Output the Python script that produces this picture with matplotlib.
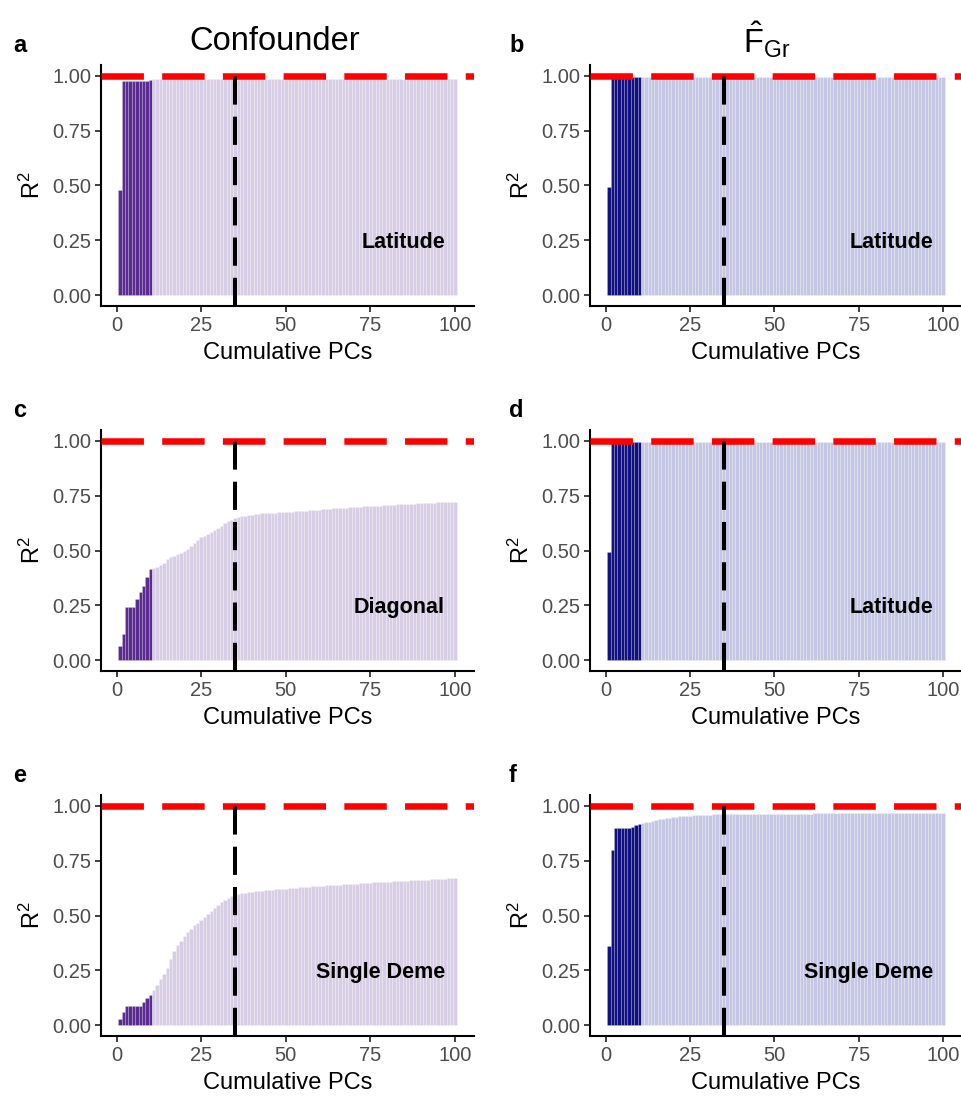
import matplotlib
matplotlib.use("Agg")
import matplotlib.pyplot as plt
import numpy as np

plt.rcParams['font.family'] = ['Liberation Sans', 'DejaVu Sans']
plt.rcParams['mathtext.fontset'] = 'custom'
plt.rcParams['mathtext.rm'] = 'Liberation Sans'
plt.rcParams['mathtext.it'] = 'Liberation Sans:italic'

# cumulative R^2 of the confounder / F_Gr on the first k PCs, k = 1..100
pcs = np.arange(1, 101)

conf_latitude = [
    0.480, 0.977, 0.977, 0.977, 0.977, 0.977, 0.977, 0.977, 0.979, 0.983,
    0.985, 0.985, 0.986, 0.986, 0.986, 0.986, 0.986, 0.986, 0.986, 0.986,
    0.986, 0.986, 0.986, 0.986, 0.986, 0.986, 0.986, 0.986, 0.986, 0.986,
    0.986, 0.986, 0.986, 0.986, 0.986, 0.986, 0.986, 0.986, 0.986, 0.986,
    0.986, 0.986, 0.986, 0.986, 0.986, 0.986, 0.986, 0.986, 0.986, 0.986,
    0.986, 0.986, 0.986, 0.986, 0.986, 0.986, 0.986, 0.986, 0.986, 0.986,
    0.986, 0.986, 0.986, 0.986, 0.986, 0.986, 0.986, 0.986, 0.986, 0.986,
    0.986, 0.986, 0.986, 0.986, 0.986, 0.986, 0.986, 0.986, 0.986, 0.986,
    0.986, 0.986, 0.986, 0.986, 0.986, 0.986, 0.986, 0.986, 0.986, 0.986,
    0.986, 0.986, 0.986, 0.986, 0.986, 0.986, 0.986, 0.986, 0.986, 0.986,
]

fgr_latitude = [
    0.495, 0.994, 0.994, 0.994, 0.994, 0.994, 0.994, 0.994, 0.994, 0.994,
    0.994, 0.994, 0.994, 0.994, 0.994, 0.994, 0.994, 0.994, 0.994, 0.994,
    0.994, 0.994, 0.994, 0.994, 0.994, 0.994, 0.994, 0.994, 0.994, 0.994,
    0.994, 0.994, 0.994, 0.994, 0.994, 0.994, 0.994, 0.994, 0.994, 0.994,
    0.994, 0.994, 0.994, 0.994, 0.994, 0.994, 0.994, 0.994, 0.994, 0.994,
    0.994, 0.994, 0.994, 0.994, 0.994, 0.994, 0.994, 0.994, 0.994, 0.994,
    0.994, 0.994, 0.994, 0.994, 0.994, 0.994, 0.994, 0.994, 0.994, 0.994,
    0.994, 0.994, 0.994, 0.994, 0.994, 0.994, 0.994, 0.994, 0.994, 0.994,
    0.994, 0.994, 0.994, 0.994, 0.994, 0.994, 0.994, 0.994, 0.994, 0.994,
    0.994, 0.994, 0.994, 0.994, 0.994, 0.994, 0.994, 0.994, 0.994, 0.994,
]

conf_diagonal = [
    0.065, 0.119, 0.244, 0.244, 0.244, 0.279, 0.309, 0.339, 0.377, 0.415,
    0.418, 0.424, 0.432, 0.445, 0.460, 0.470, 0.474, 0.484, 0.490, 0.496,
    0.505, 0.520, 0.533, 0.548, 0.560, 0.568, 0.576, 0.585, 0.594, 0.603,
    0.614, 0.624, 0.633, 0.641, 0.647, 0.652, 0.656, 0.659, 0.662, 0.664,
    0.666, 0.667, 0.669, 0.670, 0.671, 0.672, 0.673, 0.674, 0.675, 0.676,
    0.677, 0.678, 0.679, 0.680, 0.681, 0.682, 0.684, 0.685, 0.686, 0.687,
    0.689, 0.690, 0.691, 0.692, 0.693, 0.694, 0.695, 0.696, 0.697, 0.698,
    0.699, 0.700, 0.701, 0.702, 0.703, 0.704, 0.704, 0.705, 0.706, 0.707,
    0.708, 0.709, 0.710, 0.710, 0.711, 0.712, 0.713, 0.714, 0.715, 0.716,
    0.716, 0.717, 0.718, 0.719, 0.720, 0.720, 0.721, 0.722, 0.722, 0.723,
]

conf_single_deme = [
    0.026, 0.061, 0.087, 0.087, 0.087, 0.087, 0.087, 0.107, 0.125, 0.139,
    0.160, 0.185, 0.210, 0.235, 0.260, 0.300, 0.340, 0.365, 0.385, 0.405,
    0.425, 0.440, 0.455, 0.468, 0.480, 0.495, 0.508, 0.521, 0.534, 0.547,
    0.560, 0.572, 0.582, 0.589, 0.594, 0.598, 0.601, 0.604, 0.606, 0.608,
    0.610, 0.612, 0.614, 0.616, 0.617, 0.618, 0.620, 0.621, 0.622, 0.623,
    0.624, 0.625, 0.627, 0.628, 0.629, 0.630, 0.631, 0.633, 0.634, 0.635,
    0.636, 0.637, 0.638, 0.639, 0.640, 0.641, 0.642, 0.643, 0.644, 0.645,
    0.646, 0.647, 0.648, 0.649, 0.650, 0.651, 0.651, 0.652, 0.653, 0.654,
    0.655, 0.656, 0.657, 0.658, 0.658, 0.659, 0.660, 0.661, 0.662, 0.663,
    0.663, 0.664, 0.665, 0.666, 0.667, 0.667, 0.668, 0.669, 0.669, 0.670,
]

fgr_single_deme = [
    0.362, 0.799, 0.900, 0.900, 0.900, 0.900, 0.900, 0.906, 0.913, 0.918,
    0.921, 0.925, 0.929, 0.933, 0.936, 0.939, 0.942, 0.944, 0.947, 0.949,
    0.951, 0.953, 0.954, 0.955, 0.956, 0.957, 0.958, 0.959, 0.959, 0.960,
    0.960, 0.961, 0.961, 0.961, 0.962, 0.962, 0.962, 0.962, 0.963, 0.963,
    0.963, 0.963, 0.963, 0.963, 0.964, 0.964, 0.964, 0.964, 0.964, 0.964,
    0.964, 0.965, 0.965, 0.965, 0.965, 0.965, 0.965, 0.965, 0.965, 0.965,
    0.965, 0.966, 0.966, 0.966, 0.966, 0.966, 0.966, 0.966, 0.966, 0.966,
    0.966, 0.966, 0.966, 0.966, 0.966, 0.967, 0.967, 0.967, 0.967, 0.967,
    0.967, 0.967, 0.967, 0.967, 0.967, 0.967, 0.967, 0.967, 0.967, 0.967,
    0.967, 0.967, 0.967, 0.967, 0.967, 0.967, 0.967, 0.967, 0.967, 0.967,
]

panel_letters = ["a", "b", "c", "d", "e", "f"]
panel_series = [conf_latitude, fgr_latitude, conf_diagonal,
                fgr_latitude, conf_single_deme, fgr_single_deme]
panel_tags = ["Latitude", "Latitude", "Diagonal",
              "Latitude", "Single Deme", "Single Deme"]
column_titles = ["Confounder", r"$\hat{\mathrm{F}}_{\mathrm{Gr}}$"]

n_used = 10       # PCs included in the model
pc_cutoff = 35    # dashed vertical line

purple_dark, purple_light = "#5B2C8F", "#D7CDE5"
blue_dark, blue_light = "#11117F", "#C4C6E4"

W, H = 962, 1100
fig = plt.figure(figsize=(W / 100, H / 100), dpi=100)

col_left = [101, 590]
col_width = [373, 372]
row_top = [65, 430, 795]
row_height = 241

for i, (letter, vals, tag) in enumerate(zip(panel_letters, panel_series, panel_tags)):
    row, col = divmod(i, 2)
    left = col_left[col] / W
    bottom = 1 - (row_top[row] + row_height) / H
    ax = fig.add_axes([left, bottom, col_width[col] / W, row_height / H])

    vals = np.array(vals)
    dark, light = (purple_dark, purple_light) if col == 0 else (blue_dark, blue_light)
    used = pcs <= n_used
    # thin pale outline keeps the individual bars faintly visible
    ax.bar(pcs[used], vals[used], width=1.0, color=dark,
           edgecolor=(1, 1, 1, 0.3), linewidth=0.4)
    ax.bar(pcs[~used], vals[~used], width=1.0, color=light,
           edgecolor=(1, 1, 1, 0.35), linewidth=0.4)

    ax.axhline(1.0, color="#FF0000", lw=4.7, dashes=(6.5, 2.8), zorder=3)
    ax.axvline(pc_cutoff, color="black", lw=2.9, dashes=(7, 3), zorder=4)

    ax.set_xlim(-4.6, 105.6)
    ax.set_ylim(-0.05, 1.05)
    ax.set_xticks([0, 25, 50, 75, 100])
    ax.set_yticks([0, 0.25, 0.5, 0.75, 1.0])
    ax.set_yticklabels(["0.00", "0.25", "0.50", "0.75", "1.00"])
    for side in ["top", "right"]:
        ax.spines[side].set_visible(False)
    for side in ["left", "bottom"]:
        ax.spines[side].set_linewidth(1.5)
    ax.tick_params(axis="both", length=4, width=1.3, color="#333333",
                   labelsize=14.5, labelcolor="#4D4D4D", pad=3)
    ax.set_xlabel("Cumulative PCs", fontsize=17, labelpad=5)
    ax.set_ylabel(r"R$^2$", fontsize=17, labelpad=5)

    ax.text(97, 0.24, tag, fontsize=15.5, fontweight="bold", ha="right", va="center")

    fig.text((13 if col == 0 else 509) / W, 1 - (row_top[row] - 20) / H, letter,
             fontsize=17, fontweight="bold", ha="left", va="center")

fig.text(275 / W, 1 - 42 / H, column_titles[0], fontsize=23.5, ha="center", va="center")
fig.text(767 / W, 1 - 40 / H, column_titles[1], fontsize=23.5, ha="center", va="center")

fig.savefig("out.png", dpi=100, facecolor="white")
